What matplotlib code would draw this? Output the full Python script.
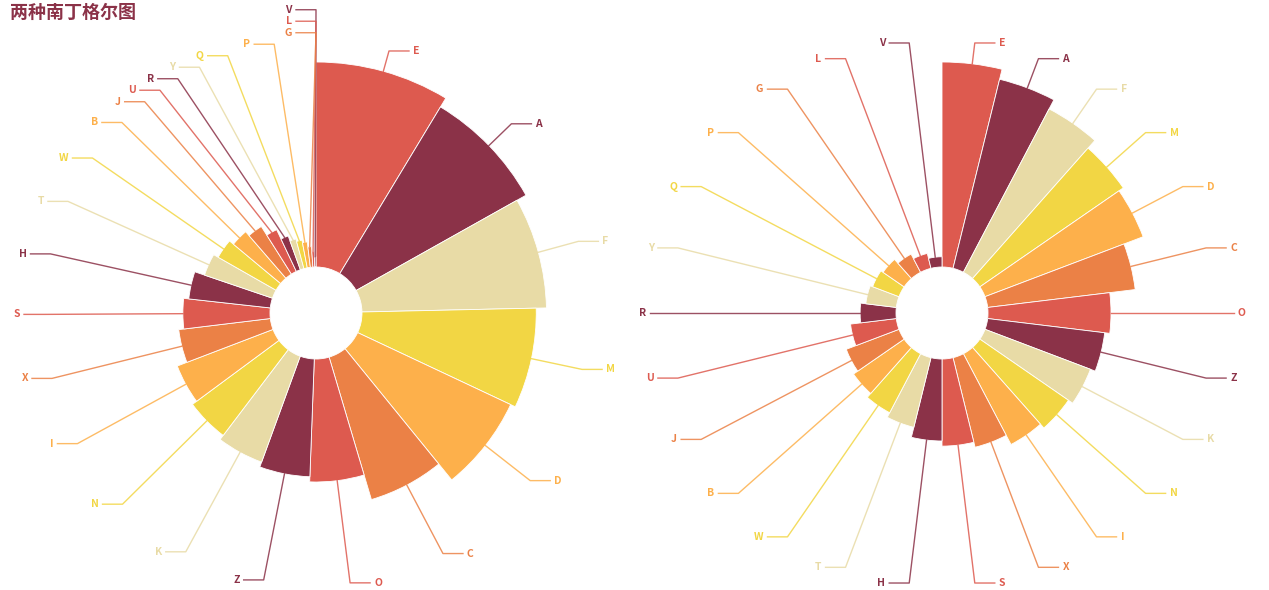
import numpy as np
import matplotlib
matplotlib.use("Agg")
import matplotlib.pyplot as plt
from matplotlib.patches import Wedge

plt.rcParams['font.family'] = ['Noto Sans CJK SC', 'DejaVu Sans']

# dati (ordinati in senso decrescente, come nel riferimento)
names = ["E", "A", "F", "M", "D", "C", "O", "Z", "K", "N", "I", "X", "S",
         "H", "T", "W", "B", "J", "U", "R", "Y", "Q", "P", "G", "L", "V"]
values = [40, 38, 36, 34, 33, 29, 24, 23, 22, 21, 20, 18, 17,
          16, 14, 13, 12, 11, 9, 7, 6, 5.5, 5, 4, 3, 2]
palette = ["#dd5a4f", "#8b3248", "#e8dba6", "#f2d644", "#fdb04b", "#eb8146"]
title = "两种南丁格尔图"

W, H = 1269, 590
R0, R1, RLAB = 46, 251, 272


def spread(items, cy, gap):
    # rilassamento semplice per evitare sovrapposizioni delle etichette
    items.sort(key=lambda d: d["y"])
    for _ in range(300):
        moved = False
        for a, b in zip(items, items[1:]):
            d = b["y"] - a["y"]
            if d < gap:
                s = (gap - d) / 2
                a["y"] -= s; b["y"] += s
                moved = True
        if not moved:
            break


def rose(ax, cx, cy, mode):
    v = np.array(values, float)
    n = len(v)
    spans = v / v.sum() * 360 if mode == "radius" else np.full(n, 360 / n)
    radii = R0 + (R1 - R0) * v / v.max()
    start = np.concatenate([[0], np.cumsum(spans)[:-1]])
    labels = []
    for i in range(n):
        col = palette[i % len(palette)]
        t1 = 90 - start[i] - spans[i]
        t2 = 90 - start[i]
        ax.add_patch(Wedge((cx, cy), radii[i], -t2, -t1, width=radii[i] - R0,
                           facecolor=col, edgecolor="white", lw=0.6))
        mid = np.deg2rad(start[i] + spans[i] / 2)
        sx, sy = np.sin(mid), -np.cos(mid)
        labels.append(dict(i=i, col=col, ex=cx + radii[i] * sx, ey=cy + radii[i] * sy,
                           y=cy + RLAB * sy, side=1 if sx >= 0 else -1))
    for side in (1, -1):
        grp = [d for d in labels if d["side"] == side]
        spread(grp, cy, 11.5)
        for d in grp:
            dy = d["y"] - cy
            dx = np.sqrt(max(RLAB ** 2 - dy ** 2, 0))
            x = cx + side * dx
            x2 = x + side * 20
            ax.plot([d["ex"], x, x2], [d["ey"], d["y"], d["y"]], color=d["col"],
                    lw=1, alpha=0.85, zorder=1)
            ax.text(x2 + side * 4, d["y"], names[d["i"]], color=d["col"],
                    fontsize=7.5, fontweight="bold", fontstyle="italic",
                    ha="left" if side > 0 else "right", va="center")


fig = plt.figure(figsize=(W / 100, H / 100), dpi=100)
ax = fig.add_axes([0, 0, 1, 1])
ax.set_xlim(0, W); ax.set_ylim(H, 0)
ax.axis("off")

rose(ax, 316, 313, "radius")
rose(ax, 942, 313, "area")
ax.text(10, 12, title, fontsize=13, fontweight="bold", color="#8b3248",
        ha="left", va="center")

fig.savefig("out.png", dpi=100)
